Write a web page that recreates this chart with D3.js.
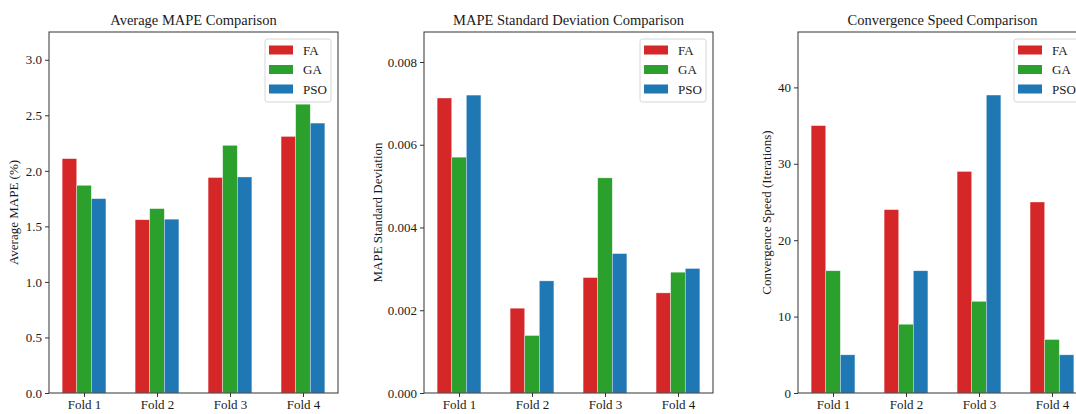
<!DOCTYPE html>
<html>
<head>
<meta charset="utf-8">
<script src="https://cdn.jsdelivr.net/npm/d3@7"></script>
<style>
  body { margin: 0; background: #fff; }
  svg { display: block; font-family: "Liberation Serif", "Times New Roman", serif; }
</style>
</head>
<body>
<svg id="chart" width="1076" height="414"></svg>
<script>
// data
var folds = ["Fold 1", "Fold 2", "Fold 3", "Fold 4"];
var methods = ["FA", "GA", "PSO"];
var colors = ["#d62728", "#2ca02c", "#1f77b4"];

var avgMape = {
    FA: [2.11, 1.56, 1.94, 2.31],
    GA: [1.87, 1.66, 2.23, 2.60],
    PSO: [1.75, 1.565, 1.945, 2.43]
};
var stdMape = {
    FA: [0.00713, 0.00205, 0.00279, 0.00242],
    GA: [0.00570, 0.00139, 0.00520, 0.00292],
    PSO: [0.00720, 0.00271, 0.00337, 0.00301]
};
var convSpeed = {
    FA: [35, 24, 29, 25],
    GA: [16, 9, 12, 7],
    PSO: [5, 16, 39, 5]
};

var avgTicks = [0, 0.5, 1.0, 1.5, 2.0, 2.5, 3.0];
var stdTicks = [0, 0.002, 0.004, 0.006, 0.008];
var convTicks = [0, 10, 20, 30, 40];

var panels = [
    { left: 49, title: "Average MAPE Comparison", ylabel: "Average MAPE (%)", data: avgMape,
      ymax: 3.25, ticks: avgTicks, fmt: d3.format(".1f"), labelX: 15 },
    { left: 424, title: "MAPE Standard Deviation Comparison", ylabel: "MAPE Standard Deviation", data: stdMape,
      ymax: 0.008725, ticks: stdTicks, fmt: d3.format(".3f"), labelX: 379 },
    { left: 798, title: "Convergence Speed Comparison", ylabel: "Convergence Speed (Iterations)", data: convSpeed,
      ymax: 47.25, ticks: convTicks, fmt: d3.format("d"), labelX: 768 }
];

var svg = d3.select("#chart");
var plotTop = 32, plotBottom = 393, plotWidth = 289;
var ink = "#1a1a1a";

panels.forEach(function (p) {
    var g = svg.append("g").attr("transform", "translate(" + p.left + "," + plotTop + ")");
    var h = plotBottom - plotTop;

    // matplotlib style: bars at i-0.2, i, i+0.2 with width 0.2, 5% margins
    var x = d3.scaleLinear().domain([-0.48, 3.48]).range([0, plotWidth]);
    var y = d3.scaleLinear().domain([0, p.ymax]).range([h, 0]);

    methods.forEach(function (m, j) {
        g.selectAll(".bar-" + m)
            .data(p.data[m])
            .enter().append("rect")
            .attr("x", function (d, i) { return x(i + (j - 1) * 0.2 - 0.1); })
            .attr("width", x(0.2) - x(0))
            .attr("y", function (d) { return y(d); })
            .attr("height", function (d) { return h - y(d); })
            .attr("fill", colors[j])
            .attr("stroke", "rgba(255,255,255,0.6)")
            .attr("stroke-width", 0.6);
    });

    // frame
    g.append("rect")
        .attr("width", plotWidth).attr("height", h)
        .attr("fill", "none").attr("stroke", "#333").attr("stroke-width", 1);

    var yAxis = g.append("g")
        .call(d3.axisLeft(y).tickValues(p.ticks).tickFormat(p.fmt).tickSize(4).tickPadding(3));
    var xAxis = g.append("g")
        .attr("transform", "translate(0," + h + ")")
        .call(d3.axisBottom(x).tickValues([0, 1, 2, 3]).tickFormat(function (d) { return folds[d]; })
            .tickSize(4).tickPadding(3));
    [xAxis, yAxis].forEach(function (a) {
        a.select(".domain").remove();
        a.selectAll("line").attr("stroke", "#333");
        a.selectAll("text").attr("fill", ink).style("font-size", "13px")
            .style("font-family", "'Liberation Serif', serif");
    });

    svg.append("text")
        .attr("x", p.left + plotWidth / 2).attr("y", 25)
        .attr("text-anchor", "middle")
        .attr("fill", ink).style("font-size", "14.5px")
        .text(p.title);

    svg.append("text")
        .attr("transform", "translate(" + p.labelX + "," + (plotTop + h / 2) + ") rotate(-90)")
        .attr("text-anchor", "middle").attr("dominant-baseline", "middle")
        .attr("fill", ink).style("font-size", "13px")
        .text(p.ylabel);

    // legend
    var lg = g.append("g").attr("transform", "translate(" + (plotWidth - 73) + ",7)");
    lg.append("rect")
        .attr("width", 66).attr("height", 63).attr("rx", 2.5)
        .attr("fill", "#fff").attr("fill-opacity", 0.8)
        .attr("stroke", "#ccc").attr("stroke-width", 0.8);
    methods.forEach(function (m, j) {
        var row = lg.append("g").attr("transform", "translate(4," + (11 + j * 19.5) + ")");
        row.append("rect").attr("x", 0).attr("y", -4.5).attr("width", 24).attr("height", 9)
            .attr("fill", colors[j]);
        row.append("text").attr("x", 34).attr("y", 0)
            .attr("dominant-baseline", "central")
            .attr("fill", ink).style("font-size", "13px")
            .text(m);
    });
});
</script>
</body>
</html>
